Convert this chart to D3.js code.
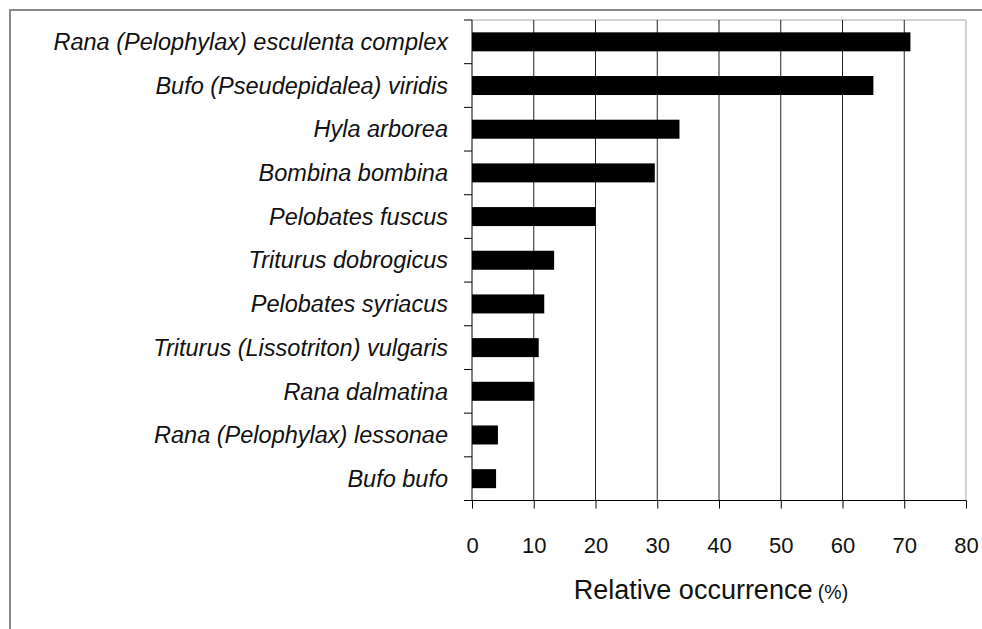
<!DOCTYPE html>
<html>
  <head>
    <meta charset="utf-8">
    <title>Relative occurrence</title>
    <script src="https://cdn.jsdelivr.net/npm/d3@7"></script>
    <style>
      body { margin: 0; background: #fff; }
      svg { display: block; font-family: Arial, "Liberation Sans", sans-serif; }
      .cat text { font-style: italic; font-size: 23.5px; fill: #111; }
      .xax text { font-size: 22px; fill: #111; }
    </style>
  </head>
  <body>
    <div id="chart"></div>
    <script>
      // species, top to bottom
      var species = [
        'Rana (Pelophylax) esculenta complex',
        'Bufo (Pseudepidalea) viridis',
        'Hyla arborea',
        'Bombina bombina',
        'Pelobates fuscus',
        'Triturus dobrogicus',
        'Pelobates syriacus',
        'Triturus (Lissotriton) vulgaris',
        'Rana dalmatina',
        'Rana (Pelophylax) lessonae',
        'Bufo bufo'
      ];
      var occurrence = [71.0, 65.0, 33.6, 29.6, 20.0, 13.3, 11.7, 10.8, 10.1, 4.2, 3.9];
      var xTicks = [0, 10, 20, 30, 40, 50, 60, 70, 80];

      var width = 982, height = 629;
      var pLeft = 472, pRight = 966, pTop = 20, pBottom = 500.5;

      var svg = d3.select('#chart').append('svg')
        .attr('width', width)
        .attr('height', height);

      // outer frame
      svg.append('rect')
        .attr('x', 10).attr('y', 10)
        .attr('width', 990).attr('height', 640)
        .attr('fill', 'none')
        .attr('stroke', '#8a8a8a')
        .attr('stroke-width', 2);

      var x = d3.scaleLinear().domain([0, 80]).range([pLeft, pRight]);
      var y = d3.scaleBand().domain(species).range([pTop, pBottom]).paddingInner(0.565).paddingOuter(0.2825);
      var yEdges = d3.scaleLinear().domain([0, species.length]).range([pTop, pBottom]);

      // plot area border (top, right)
      svg.append('path')
        .attr('d', 'M' + pLeft + ',' + pTop + 'H' + pRight + 'V' + pBottom)
        .attr('fill', 'none')
        .attr('stroke', '#a8a8a8')
        .attr('stroke-width', 1);

      // gridlines
      svg.append('g').selectAll('line')
        .data(xTicks.slice(1, -1))
        .enter().append('line')
        .attr('x1', function(d) { return x(d); })
        .attr('x2', function(d) { return x(d); })
        .attr('y1', pTop).attr('y2', pBottom)
        .attr('stroke', '#222')
        .attr('stroke-width', 1);

      // bars
      svg.append('g').selectAll('rect')
        .data(species)
        .enter().append('rect')
        .attr('x', x(0))
        .attr('y', function(d) { return y(d); })
        .attr('width', function(d, i) { return x(occurrence[i]) - x(0); })
        .attr('height', y.bandwidth())
        .attr('fill', '#000');

      // y axis line + ticks at band edges
      var yax = svg.append('g').attr('class', 'cat');
      yax.append('line')
        .attr('x1', pLeft).attr('x2', pLeft)
        .attr('y1', pTop).attr('y2', pBottom)
        .attr('stroke', '#000');
      yax.selectAll('line.tk')
        .data(d3.range(species.length + 1))
        .enter().append('line')
        .attr('class', 'tk')
        .attr('x1', pLeft - 8).attr('x2', pLeft)
        .attr('y1', function(d) { return yEdges(d); })
        .attr('y2', function(d) { return yEdges(d); })
        .attr('stroke', '#000');
      yax.selectAll('text')
        .data(species)
        .enter().append('text')
        .attr('x', 448)
        .attr('y', function(d) { return y(d) + y.bandwidth() / 2; })
        .attr('dy', '0.35em')
        .attr('text-anchor', 'end')
        .text(function(d) { return d; });

      // x axis
      var xax = svg.append('g').attr('class', 'xax')
        .attr('transform', 'translate(0,' + pBottom + ')')
        .call(d3.axisBottom(x).tickValues(xTicks).tickSize(8).tickPadding(29));
      xax.select('.domain').attr('d', 'M' + (pLeft - 8) + ',0H' + pRight).attr('stroke', '#000');
      xax.selectAll('.tick line').attr('stroke', '#000');
      xax.selectAll('.tick text').attr('font-family', null).attr('font-size', null);

      var title = svg.append('text')
        .attr('x', 711)
        .attr('y', 599)
        .attr('text-anchor', 'middle')
        .attr('fill', '#111');
      title.append('tspan').attr('font-size', 27).text('Relative occurrence');
      title.append('tspan').attr('font-size', 19.5).text(' (%)');
    </script>
  </body>
</html>
